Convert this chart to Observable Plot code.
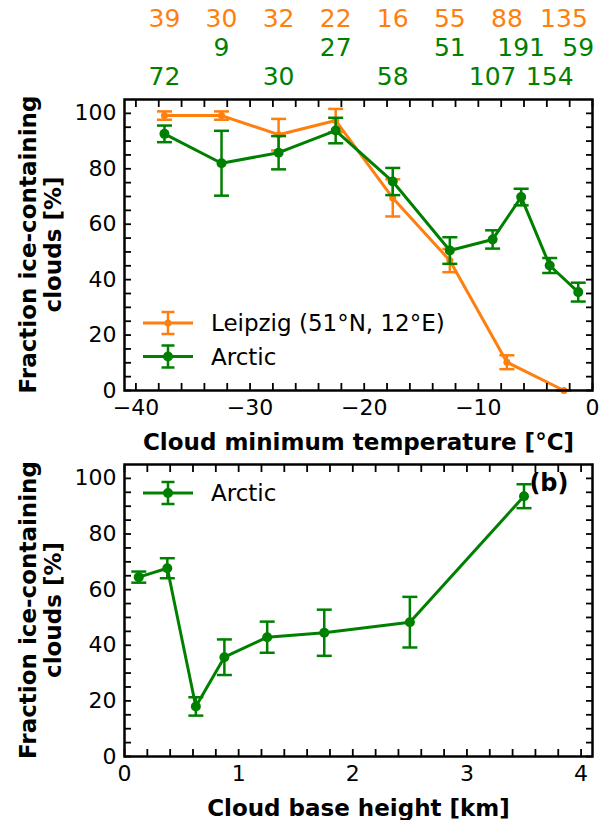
<!DOCTYPE html>
<html><head><meta charset="utf-8">
<script src="https://cdn.jsdelivr.net/npm/d3@7"></script>
<script src="https://cdn.jsdelivr.net/npm/@observablehq/plot@0.6"></script>
<style>
body{margin:0;background:#fff;font-family:"DejaVu Sans",sans-serif}
#wrap{position:relative;width:600px;height:820px;overflow:hidden}
#wrap svg{display:block}
.overlay{position:absolute;left:0;top:0;pointer-events:none}
</style></head><body><div id="wrap"></div>
<script>
// ---- Panel (a): fraction vs cloud minimum temperature ----
const leipzigTemp = [-37.5, -32.5, -27.5, -22.5, -17.5, -12.5, -7.5, -2.5];
const leipzigFrac = [99.2, 99.2, 92.3, 97.4, 69.5, 46.9, 10.2, 0];
const leipzigErr  = [1.5, 1.5, 5.7, 4.2, 6.7, 4.2, 2.5, 0];
const leipzigN    = [39, 30, 32, 22, 16, 55, 88, 135];

const arcticTemp = [-37.5, -32.5, -27.5, -22.5, -17.5, -12.5, -8.75, -6.25, -3.75, -1.25];
const arcticFrac = [92.6, 82.0, 85.8, 93.8, 75.4, 50.5, 54.5, 69.8, 45.1, 35.5];
const arcticErr  = [3.0, 11.7, 6.0, 4.6, 4.9, 4.8, 3.3, 3.0, 2.7, 3.4];
const arcticN    = [72, 9, 30, 27, 58, 51, 107, 191, 154, 59];

// ---- Panel (b): fraction vs cloud base height ----
const baseHeight    = [0.125, 0.375, 0.625, 0.875, 1.25, 1.75, 2.5, 3.5];
const arcticFracH   = [64.5, 67.7, 18.0, 35.7, 42.9, 44.5, 48.3, 93.6];
const arcticErrH    = [2.0, 3.6, 3.3, 6.4, 5.6, 8.3, 9.1, 4.3];

// ---- tick labels ----
const tempTickLabels   = [-40, -30, -20, -10, 0];
const heightTickLabels = [0, 1, 2, 3, 4];
const fracTickLabels   = [0, 20, 40, 60, 80, 100];
const tempMinorTicks   = d3.range(-40, 0.001, 2);
const heightMinorTicks = d3.range(0, 4.001, 0.2);
const fracMinorTicks   = d3.range(0, 105, 5);

const legendA = ["Leipzig (51°N, 12°E)", "Arctic"];
const legendB = ["Arctic"];
const yLabelLines = ["Fraction ice-containing", "clouds [%]"];

const orange = "#ff7f0e", green = "#008000";
const FONT = "DejaVu Sans";

const hline = {draw(ctx, size) { const r = Math.sqrt(size / Math.PI); ctx.moveTo(-r, 0); ctx.lineTo(r, 0); }};

function series(xs, ys, es, color, r) {
  const rows = xs.map((x, i) => ({x, y: ys[i], lo: ys[i] - es[i], hi: ys[i] + es[i]}));
  return [
    Plot.ruleX(rows, {x: "x", y1: "lo", y2: "hi", stroke: color, strokeWidth: 2.5}),
    Plot.dot(rows, {x: "x", y: "lo", symbol: hline, r: 7.5, stroke: color, strokeWidth: 2.5, fill: "none"}),
    Plot.dot(rows, {x: "x", y: "hi", symbol: hline, r: 7.5, stroke: color, strokeWidth: 2.5, fill: "none"}),
    Plot.line(rows, {x: "x", y: "y", stroke: color, strokeWidth: 3}),
    Plot.dot(rows, {x: "x", y: "y", r, fill: color, stroke: "none"})
  ];
}

function frameTicks(xt, yt) {
  const o = {tickSize: -7, tickFormat: () => "", label: null, strokeWidth: 1.8};
  return [
    Plot.axisX({...o, anchor: "bottom", ticks: xt}),
    Plot.axisX({...o, anchor: "top", ticks: xt}),
    Plot.axisY({...o, anchor: "left", ticks: yt}),
    Plot.axisY({...o, anchor: "right", ticks: yt})
  ];
}

function common(xt, xLabel, xFormat) {
  return [
    ...frameTicks(xt.minor, fracMinorTicks),
    Plot.axisX({anchor: "bottom", ticks: xt.major, tickFormat: xFormat, tickSize: 0, tickPadding: 9, label: null, fontSize: 22}),
    Plot.axisY({anchor: "left", ticks: fracTickLabels, tickFormat: d3.format("d"), tickSize: 0, tickPadding: 8, label: null, fontSize: 22}),
    Plot.text([xLabel], {frameAnchor: "bottom", dy: 52, fontSize: 23, fontWeight: "bold", lineAnchor: "middle"}),
    Plot.frame({stroke: "black", strokeWidth: 2.5})
  ];
}

const arcticIdx = arcticN.map((_, i) => i);
const plotA = Plot.plot({
  width: 600, height: 455,
  marginTop: 99, marginBottom: 65, marginLeft: 124, marginRight: 8,
  style: {fontFamily: FONT, fontSize: "22px", color: "black"},
  x: {domain: [-41, 0], axis: null},
  y: {domain: [0, 105], axis: null},
  marks: [
    ...series(leipzigTemp, leipzigFrac, leipzigErr, orange, 3.5),
    ...series(arcticTemp, arcticFrac, arcticErr, green, 5),
    Plot.text(leipzigN, {x: (d, i) => leipzigTemp[i], text: d => String(d), frameAnchor: "top", dy: -81, fill: orange, fontSize: 25, lineAnchor: "middle"}),
    Plot.text(arcticIdx.filter(i => i % 2 === 1), {x: i => arcticTemp[i], text: i => String(arcticN[i]), frameAnchor: "top", dy: -52, fill: green, fontSize: 25, lineAnchor: "middle"}),
    Plot.text(arcticIdx.filter(i => i % 2 === 0), {x: i => arcticTemp[i], text: i => String(arcticN[i]), frameAnchor: "top", dy: -23, fill: green, fontSize: 25, lineAnchor: "middle"}),
    ...common({minor: tempMinorTicks, major: tempTickLabels}, "Cloud minimum temperature [°C]", d3.format("d"))
  ]
});

const plotB = Plot.plot({
  width: 600, height: 365,
  marginTop: 9, marginBottom: 64, marginLeft: 124, marginRight: 8,
  style: {fontFamily: FONT, fontSize: "22px", color: "black"},
  x: {domain: [0, 4.1], axis: null},
  y: {domain: [0, 105], axis: null},
  marks: [
    ...series(baseHeight, arcticFracH, arcticErrH, green, 5),
    Plot.text(["(b)"], {frameAnchor: "top-right", dx: -24, dy: 19, fontSize: 24, fontWeight: "bold", textAnchor: "end", lineAnchor: "middle"}),
    ...common({minor: heightMinorTicks, major: heightTickLabels}, "Cloud base height [km]", d3.format("d"))
  ]
});

const wrap = document.getElementById("wrap");
wrap.appendChild(plotA);
wrap.appendChild(plotB);

// overlays: legends and two-line y-axis titles
const ov = d3.create("svg").attr("class", "overlay").attr("width", 600).attr("height", 820)
  .style("font-family", FONT);

function legend(items, colors, radii, yTop, step) {
  items.forEach((t, i) => {
    const y = yTop + i * step, c = colors[i], g = ov.append("g");
    g.append("line").attr("x1", 143).attr("x2", 193).attr("y1", y).attr("y2", y).attr("stroke", c).attr("stroke-width", 3);
    g.append("line").attr("x1", 168).attr("x2", 168).attr("y1", y - 11).attr("y2", y + 11).attr("stroke", c).attr("stroke-width", 2.5);
    [y - 11, y + 11].forEach(yy => g.append("line").attr("x1", 161.5).attr("x2", 174.5).attr("y1", yy).attr("y2", yy).attr("stroke", c).attr("stroke-width", 2.5));
    g.append("circle").attr("cx", 168).attr("cy", y).attr("r", radii[i]).attr("fill", c);
    g.append("text").attr("x", 211).attr("y", y).attr("dy", "0.36em").attr("font-size", 23).text(t);
  });
}
legend(legendA, [orange, green], [3.5, 5], 323, 33.5);
legend(legendB, [green], [5], 493, 0);

function yTitle(cy) {
  yLabelLines.forEach((t, i) => {
    ov.append("text").attr("transform", `translate(${28 + i * 25},${cy}) rotate(-90)`)
      .attr("text-anchor", "middle").attr("dy", "0.36em")
      .attr("font-size", 23).attr("font-weight", "bold").text(t);
  });
}
yTitle(244.5);
yTitle(610);

wrap.appendChild(ov.node());
</script></body></html>
